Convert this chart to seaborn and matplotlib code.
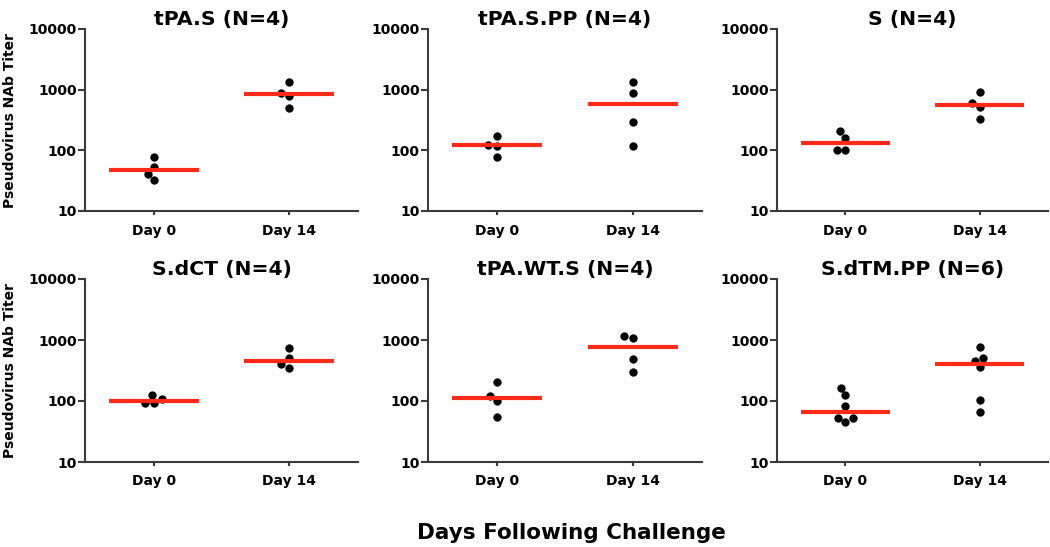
import numpy as np
import pandas as pd
import matplotlib
matplotlib.use('Agg')
import matplotlib.pyplot as plt
import seaborn as sns

# panel titles and titers
titles = ['tPA.S (N=4)', 'tPA.S.PP (N=4)', 'S (N=4)',
          'S.dCT (N=4)', 'tPA.WT.S (N=4)', 'S.dTM.PP (N=6)']
days = ['Day 0', 'Day 14']

day0 = [
    [79, 54, 41, 32],
    [172, 122, 120, 77],
    [208, 162, 100, 100],
    [126, 106, 93, 93],
    [204, 121, 100, 54],
    [164, 126, 82, 52, 52, 45],
]
day14 = [
    [1350, 890, 785, 505],
    [1320, 870, 290, 120],
    [903, 610, 525, 328],
    [730, 505, 400, 345],
    [1170, 1080, 480, 300],
    [760, 505, 460, 355, 103, 65],
]

sns.set_style('ticks')
plt.rcParams['font.family'] = ['DejaVu Sans']
plt.rcParams['font.weight'] = 'bold'
plt.rcParams['text.color'] = 'black'
plt.rcParams['axes.labelcolor'] = 'black'
plt.rcParams['xtick.labelcolor'] = 'black'
plt.rcParams['ytick.labelcolor'] = 'black'

fig = plt.figure(figsize=(10.5, 5.47), dpi=100)
W, H = 1050, 547

# axes boxes in pixels: (left, top, right, bottom)
lefts = [85, 428, 777]
rights = [358, 702, 1048]
tops = [29, 279]
bottoms = [211, 462]

spine_col = '#3a3a3a'

for k in range(6):
    r, c = divmod(k, 3)
    l, rt = lefts[c], rights[c]
    t, b = tops[r], bottoms[r]
    ax = fig.add_axes([l / W, 1 - b / H, (rt - l) / W, (b - t) / H])
    ax.set_yscale('log')

    df = pd.DataFrame({
        'day': [days[0]] * len(day0[k]) + [days[1]] * len(day14[k]),
        'titer': day0[k] + day14[k],
    })

    sns.swarmplot(data=df, x='day', y='titer', order=days, ax=ax,
                  color='black', size=6, zorder=2)

    # median bars
    med = df.groupby('day')['titer'].median().reindex(days)
    for i, m in enumerate(med.values):
        ax.hlines(m, i - 0.33, i + 0.33, color='#ff2a1a', lw=3, zorder=3)

    ax.set_ylim(10, 10000)
    ax.set_xlim(-0.51, 1.51)
    ax.set_yticks([10, 100, 1000, 10000])
    ax.set_yticklabels(['10', '100', '1000', '10000'])
    ax.yaxis.set_minor_locator(matplotlib.ticker.NullLocator())
    ax.tick_params(axis='y', length=5, width=1.5, color=spine_col,
                   labelsize=10, pad=1, labelcolor='black')
    ax.tick_params(axis='x', length=3, width=1.5, color=spine_col,
                   labelsize=10, pad=6, labelcolor='black')
    for lab in ax.get_xticklabels() + ax.get_yticklabels():
        lab.set_fontweight('bold')
    sns.despine(ax=ax)
    for s in ['left', 'bottom']:
        ax.spines[s].set_linewidth(1.5)
        ax.spines[s].set_color(spine_col)

    ax.set_title(titles[k], fontsize=14.7, fontweight='bold', pad=3,
                 color='black')
    ax.set_xlabel('')
    if c == 0:
        ax.set_ylabel('Pseudovirus NAb Titer', fontsize=10,
                      fontweight='bold', labelpad=8, color='black')
    else:
        ax.set_ylabel('')

fig.text(571 / W, 1 - 533 / H, 'Days Following Challenge',
         ha='center', va='center', fontsize=15.5, fontweight='bold',
         color='black')

fig.savefig('out.png', dpi=100)
